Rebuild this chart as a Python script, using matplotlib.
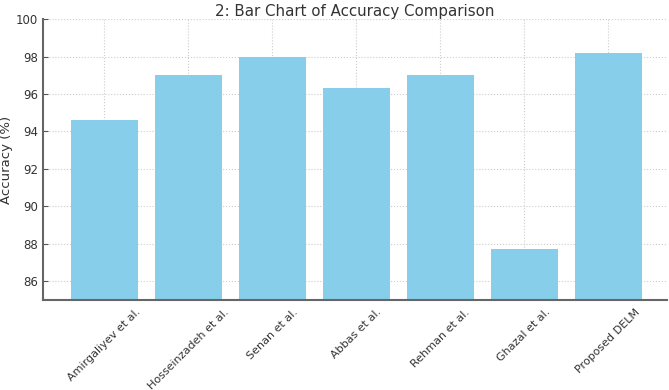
import numpy as np
import matplotlib.pyplot as plt

methods = ['Amirgaliyev et al.', 'Hosseinzadeh et al.', 'Senan et al.', 'Abbas et al.',
           'Rehman et al.', 'Ghazal et al.', 'Proposed DELM']
accuracy = [94.6, 97.0, 98.0, 96.3, 97.0, 87.7, 98.2]

fig = plt.figure(figsize=(6.69, 3.9), dpi=100)
ax = fig.add_axes([0.064, 0.231, 0.933, 0.72])

x = np.arange(len(methods))
ax.bar(x, accuracy, width=0.8, color='skyblue', zorder=2)

ax.set_ylim(85, 100)
ax.set_xlim(-0.73, 6.7)
ax.set_yticks([86, 88, 90, 92, 94, 96, 98, 100])
ax.set_xticks(x)
ax.set_xticklabels(methods, rotation=45, fontsize=8)
ax.set_ylabel('Accuracy (%)', fontsize=9.5, color='#333333')
ax.yaxis.set_label_coords(-0.047, 0.5)
ax.set_title('2: Bar Chart of Accuracy Comparison', fontsize=10.8, color='#333333', pad=-1)

ax.grid(True, linestyle=':', color='#cccccc', linewidth=0.8, zorder=0)
for side in ['top', 'right']:
    ax.spines[side].set_visible(False)
for side in ['left', 'bottom']:
    ax.spines[side].set_color('#666666')
    ax.spines[side].set_linewidth(1.5)
ax.tick_params(direction='in', colors='#555555', labelcolor='#333333')
ax.tick_params(axis='y', labelsize=8.5)
ax.tick_params(axis='x', pad=5)

fig.savefig('out.png', dpi=100)
